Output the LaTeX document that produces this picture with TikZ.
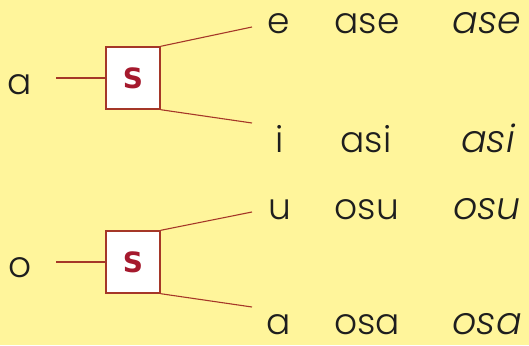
\documentclass[tikz,border=0pt]{standalone}
\usepackage{fontspec}
\setmainfont{Poppins Light}
\newfontfamily\sbold{DejaVu Sans}
\newfontfamily\cursivefont{Poppins Light}
\definecolor{bg}{RGB}{255,245,155}
\definecolor{wire}{RGB}{165,55,40}
\definecolor{sred}{RGB}{165,25,45}
\definecolor{ink}{RGB}{30,30,30}
\begin{document}
\begin{tikzpicture}[x=1pt,y=-1pt,
  wirel/.style={draw=wire,line width=1.1pt},
  sbox/.style={draw=wire,line width=1.4pt,fill=white,minimum width=54pt,minimum height=62pt,inner sep=0pt,font=\sbold\bfseries\fontsize{28}{28}\selectfont,text=sred},
  lbl/.style={anchor=base,inner sep=0pt,text=ink,font=\fontsize{36}{36}\selectfont},
  cur/.style={anchor=base,inner sep=0pt,text=ink,font=\cursivefont\itshape\fontsize{38}{38}\selectfont}]
\fill[bg] (0,0) rectangle (529,345);
\useasboundingbox (0,0) rectangle (529,345);
% top group
\node[lbl] (la) at (20,94) {a};
\node[sbox] (s1) at (133,78) {S};
\coordinate (a1) at (56,78);
\coordinate (e1) at (252,27);
\coordinate (i1) at (252,123);
\draw[wirel] (a1) -- (s1.west);
\draw[wirel] (s1.north east) -- (e1);
\draw[wirel] (s1.south east) -- (i1);
\node[lbl] (te) at (279,34) {e};
\node[lbl] (tase) at (367,34) {ase};
\node[cur] (case) at (487,34) {ase};
\node[lbl] (ti) at (280,152) {i};
\node[lbl] (tasi) at (366,152) {asi};
\node[cur] (casi) at (488,152) {asi};
% bottom group
\node[lbl] (lo) at (20,277) {o};
\node[sbox] (s2) at (133,262) {S};
\coordinate (o1) at (56,262);
\coordinate (u1) at (252,212);
\coordinate (a2) at (252,307);
\draw[wirel] (o1) -- (s2.west);
\draw[wirel] (s2.north east) -- (u1);
\draw[wirel] (s2.south east) -- (a2);
\node[lbl] (tu) at (280,219) {u};
\node[lbl] (tosu) at (367,219) {osu};
\node[cur] (cosu) at (487,219) {osu};
\node[lbl] (ta) at (279,334) {a};
\node[lbl] (tosa) at (367,334) {osa};
\node[cur] (cosa) at (487,334) {osa};
\end{tikzpicture}
\end{document}
